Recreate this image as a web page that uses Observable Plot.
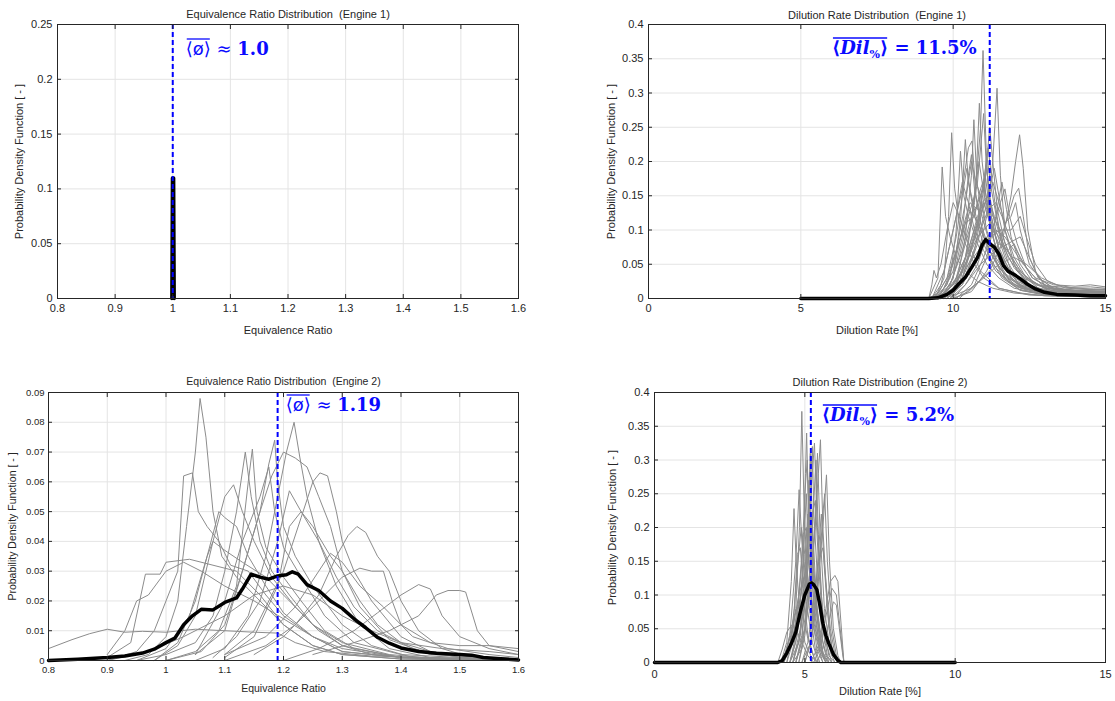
<!DOCTYPE html>
<html><head><meta charset="utf-8">
<script src="https://cdn.jsdelivr.net/npm/d3@7"></script>
<script src="https://cdn.jsdelivr.net/npm/@observablehq/plot@0.6"></script>
<style>
body{margin:0;background:#fff;}
#wrap{position:relative;width:1115px;height:701px;overflow:hidden;background:#fff;}
.panel{position:absolute;}
</style></head><body><div id="wrap"></div>
<script>
// ---------------- DATA ----------------
const titles = ["Equivalence Ratio Distribution\u00a0 (Engine 1)", "Dilution Rate Distribution\u00a0 (Engine 1)",
                "Equivalence Ratio Distribution\u00a0 (Engine 2)", "Dilution Rate Distribution (Engine 2)"];
const yLabelText = "Probability Density Function [ - ]";
const xLabels = ["Equivalence Ratio", "Dilution Rate [%]", "Equivalence Ratio", "Dilution Rate [%]"];

const eqTicksX = [0.8, 0.9, 1.0, 1.1, 1.2, 1.3, 1.4, 1.5, 1.6];
const dilTicksX = [0, 5, 10, 15];
const eq1TicksY = [0, 0.05, 0.1, 0.15, 0.2, 0.25];
const dilTicksY = [0, 0.05, 0.1, 0.15, 0.2, 0.25, 0.3, 0.35, 0.4];
const eq2TicksY = [0, 0.01, 0.02, 0.03, 0.04, 0.05, 0.06, 0.07, 0.08, 0.09];

const meanValues = {eq1: 1.0, dil1: 11.2, eq2: 1.19, dil2: 5.2};
const meanLabels = {eq1: "1.0", dil1: "11.5%", eq2: "1.19", dil2: "5.2%"};

// Engine 1, equivalence ratio: all cycles collapse on 1.0
const eq1Mean = [[0.9985,0],[0.9995,0.11],[1.0015,0.11],[1.0025,0]];
const eq1Curves = [];

// Engine 1, dilution rate
const dil1Mean = [[5,0],[9.2,0],[9.5,0.001],[9.8,0.006],[10.0,0.012],[10.2,0.022],[10.4,0.031],[10.6,0.045],[10.8,0.06],[10.95,0.078],[11.07,0.086],[11.2,0.08],[11.35,0.075],[11.5,0.065],[11.65,0.048],[11.8,0.04],[12.0,0.035],[12.2,0.029],[12.4,0.022],[12.7,0.014],[13.0,0.009],[13.4,0.006],[14.0,0.005],[14.5,0.004],[15,0.004]];
const dil1Curves = [
 [[9.0,0],[9.6,0.005],[10.0,0.02],[10.4,0.06],[10.7,0.14],[10.9,0.25],[10.98,0.362],[11.08,0.22],[11.2,0.12],[11.4,0.07],[11.7,0.03],[12.2,0.012],[13,0.005],[14,0.003],[15,0.002]],
 [[9.2,0],[9.8,0.005],[10.3,0.02],[10.8,0.06],[11.1,0.12],[11.3,0.2],[11.44,0.307],[11.55,0.18],[11.7,0.1],[12.0,0.05],[12.5,0.02],[13.2,0.008],[14,0.005],[15,0.004]],
 [[9.4,0],[10.0,0.004],[10.6,0.015],[11.2,0.04],[11.6,0.08],[11.9,0.15],[12.05,0.2],[12.18,0.239],[12.3,0.19],[12.45,0.1],[12.7,0.04],[13.0,0.02],[13.6,0.01],[14.3,0.008],[15,0.006]],
 [[9.2,0],[9.5,0.03],[9.64,0.192],[9.75,0.12],[9.9,0.09],[10.1,0.06],[10.4,0.04],[10.8,0.025],[11.3,0.015],[12,0.008],[13,0.004],[15,0.002]],
 [[9.4,0],[9.7,0.03],[9.85,0.12],[9.95,0.242],[10.05,0.16],[10.2,0.11],[10.4,0.08],[10.7,0.05],[11.0,0.03],[11.5,0.015],[12.2,0.008],[13,0.004],[15,0.002]],
 [[9.5,0],[9.9,0.03],[10.1,0.1],[10.24,0.215],[10.35,0.15],[10.5,0.12],[10.8,0.08],[11.1,0.05],[11.5,0.03],[12,0.015],[13,0.006],[14,0.004],[15,0.003]],
 [[9.6,0],[10.0,0.03],[10.25,0.12],[10.4,0.232],[10.5,0.17],[10.7,0.12],[11.0,0.08],[11.3,0.05],[11.8,0.025],[12.5,0.01],[13.5,0.005],[15,0.003]],
 [[9.7,0],[10.1,0.02],[10.4,0.09],[10.6,0.18],[10.68,0.261],[10.78,0.17],[10.95,0.12],[11.2,0.08],[11.5,0.045],[12,0.02],[13,0.008],[14,0.006],[15,0.005]],
 [[9.8,0],[10.2,0.02],[10.5,0.08],[10.75,0.17],[10.86,0.285],[10.95,0.2],[11.1,0.14],[11.3,0.09],[11.6,0.05],[12.1,0.02],[13,0.008],[15,0.004]],
 [[9.2,0],[9.3,0.02],[9.37,0.041],[9.45,0.03],[9.6,0.05],[9.8,0.1],[10.0,0.14],[10.2,0.12],[10.5,0.08],[10.9,0.04],[11.5,0.015],[12.5,0.005],[15,0.002]],
 [[10.0,0],[10.6,0.01],[11.1,0.04],[11.5,0.08],[11.8,0.12],[12.0,0.15],[12.15,0.161],[12.3,0.12],[12.5,0.06],[12.8,0.03],[13.3,0.015],[14,0.012],[15,0.01]],
 [[9.4,0],[9.8,0.02],[10.1,0.07],[10.4,0.14],[10.6,0.2],[10.75,0.17],[10.9,0.15],[11.1,0.1],[11.4,0.06],[11.8,0.03],[12.5,0.012],[13.5,0.006],[15,0.004]],
 [[9.6,0],[10.0,0.01],[10.4,0.05],[10.8,0.11],[11.0,0.17],[11.15,0.22],[11.25,0.18],[11.4,0.13],[11.6,0.08],[11.9,0.04],[12.4,0.02],[13.2,0.01],[14,0.008],[15,0.007]],
 [[9.5,0],[10.0,0.015],[10.5,0.06],[10.9,0.12],[11.2,0.16],[11.35,0.19],[11.5,0.15],[11.7,0.1],[12.0,0.06],[12.4,0.03],[13,0.015],[14,0.01],[15,0.008]],
 [[9.3,0],[9.7,0.04],[10.0,0.1],[10.3,0.16],[10.5,0.22],[10.62,0.23],[10.75,0.15],[10.95,0.1],[11.2,0.06],[11.6,0.03],[12.2,0.012],[13,0.006],[15,0.003]],
 [[9.8,0],[10.3,0.02],[10.7,0.07],[11.0,0.14],[11.1,0.2],[11.2,0.25],[11.3,0.2],[11.45,0.13],[11.7,0.08],[12.1,0.04],[12.8,0.015],[13.8,0.008],[15,0.006]],
 [[9.5,0],[10.0,0.02],[10.5,0.05],[11.0,0.08],[11.5,0.1],[11.9,0.1],[12.2,0.12],[12.4,0.09],[12.7,0.05],[13.1,0.025],[13.7,0.015],[14.5,0.013],[15,0.012]],
 [[9.3,0],[9.8,0.01],[10.3,0.04],[10.8,0.09],[11.2,0.11],[11.5,0.09],[11.9,0.06],[12.3,0.035],[12.8,0.02],[13.5,0.012],[14.2,0.01],[15,0.009]],
 [[10.2,0],[10.7,0.02],[11.1,0.06],[11.4,0.12],[11.6,0.17],[11.75,0.13],[11.9,0.09],[12.2,0.05],[12.6,0.025],[13.2,0.012],[14,0.008],[15,0.006]],
 [[9.6,0],[10.0,0.03],[10.3,0.09],[10.5,0.13],[10.7,0.12],[10.9,0.16],[11.05,0.18],[11.2,0.13],[11.5,0.07],[11.9,0.03],[12.5,0.012],[13.5,0.005],[15,0.003]],
 [[9.9,0],[10.4,0.02],[10.9,0.05],[11.4,0.07],[11.8,0.08],[12.2,0.09],[12.5,0.06],[12.8,0.03],[13.2,0.018],[13.8,0.016],[14.5,0.017],[15,0.015]],
 [[9.5,0],[10.0,0.02],[10.4,0.06],[10.7,0.1],[10.95,0.13],[11.15,0.15],[11.35,0.12],[11.6,0.08],[12.0,0.045],[12.5,0.02],[13.2,0.009],[15,0.004]],
 [[9.7,0],[10.3,0.03],[10.8,0.1],[11.0,0.16],[11.1,0.19],[11.2,0.15],[11.4,0.1],[11.7,0.06],[12.1,0.03],[12.8,0.012],[13.8,0.006],[15,0.004]],
 [[10.0,0],[10.5,0.01],[11.0,0.03],[11.5,0.05],[12.0,0.06],[12.4,0.05],[12.9,0.03],[13.4,0.02],[14,0.015],[14.6,0.014],[15,0.013]],
 [[9.4,0],[9.9,0.02],[10.2,0.06],[10.5,0.12],[10.7,0.15],[10.85,0.2],[10.95,0.17],[11.1,0.13],[11.3,0.09],[11.6,0.05],[12.1,0.025],[12.8,0.012],[14,0.009],[15,0.008]],
 [[9.6,0],[10.1,0.03],[10.4,0.08],[10.6,0.11],[10.8,0.14],[11.0,0.16],[11.1,0.21],[11.25,0.16],[11.5,0.1],[11.8,0.06],[12.3,0.03],[13,0.015],[14,0.012],[15,0.011]],
 [[9.3,0],[9.7,0.015],[10.0,0.05],[10.3,0.1],[10.5,0.18],[10.6,0.21],[10.7,0.16],[10.9,0.11],[11.2,0.07],[11.6,0.035],[12.2,0.015],[13.5,0.006],[15,0.004]],
 [[9.9,0],[10.4,0.03],[10.8,0.08],[11.05,0.13],[11.3,0.17],[11.5,0.14],[11.7,0.11],[11.9,0.12],[12.05,0.14],[12.2,0.1],[12.5,0.05],[13,0.02],[14,0.01],[15,0.008]],
 [[9.5,0],[9.9,0.02],[10.3,0.07],[10.6,0.12],[10.8,0.17],[10.92,0.23],[11.0,0.27],[11.08,0.2],[11.25,0.12],[11.5,0.07],[12,0.03],[12.8,0.012],[14,0.007],[15,0.006]],
 [[9.7,0],[10.2,0.02],[10.6,0.06],[10.9,0.1],[11.15,0.13],[11.4,0.14],[11.6,0.12],[11.85,0.09],[12.2,0.06],[12.6,0.03],[13.2,0.015],[14,0.012],[15,0.014]],
 [[9.4,0],[9.8,0.03],[10.1,0.09],[10.3,0.15],[10.45,0.19],[10.55,0.16],[10.75,0.12],[11.0,0.09],[11.3,0.06],[11.7,0.035],[12.3,0.015],[13.5,0.006],[15,0.004]],
 [[10.1,0],[10.6,0.02],[11.0,0.06],[11.3,0.1],[11.55,0.14],[11.7,0.16],[11.85,0.12],[12.1,0.08],[12.4,0.045],[12.9,0.02],[13.6,0.012],[14.4,0.01],[15,0.009]],
 [[9.5,0],[10.0,0.04],[10.3,0.1],[10.55,0.14],[10.8,0.13],[11.0,0.17],[11.2,0.12],[11.45,0.08],[11.8,0.045],[12.3,0.02],[13,0.01],[15,0.005]],
 [[9.8,0],[10.3,0.03],[10.7,0.09],[10.95,0.14],[11.15,0.15],[11.3,0.12],[11.55,0.1],[11.8,0.07],[12.2,0.04],[12.7,0.02],[13.4,0.012],[14.2,0.01],[15,0.01]],
 [[9.3,0],[9.6,0.02],[9.9,0.08],[10.1,0.12],[10.3,0.17],[10.5,0.14],[10.7,0.1],[11.0,0.07],[11.4,0.04],[12,0.018],[13,0.007],[15,0.003]],
 [[9.6,0],[10.1,0.02],[10.5,0.07],[10.8,0.12],[11.0,0.14],[11.2,0.11],[11.5,0.08],[11.8,0.07],[12.0,0.08],[12.2,0.06],[12.6,0.03],[13.2,0.015],[14,0.011],[15,0.01]],
 [[10.0,0],[10.4,0.02],[10.8,0.05],[11.1,0.09],[11.4,0.1],[11.7,0.09],[12.0,0.07],[12.3,0.05],[12.7,0.03],[13.3,0.02],[14,0.018],[14.5,0.02],[15,0.017]],
 [[9.2,0],[9.5,0.008],[9.8,0.03],[10.1,0.07],[10.4,0.11],[10.7,0.12],[10.9,0.1],[11.2,0.07],[11.6,0.04],[12.2,0.02],[13,0.009],[15,0.004]]
];

// Engine 2, equivalence ratio
const eq2Mean = [[0.8,0],[0.85,0.0004],[0.9,0.001],[0.93,0.0015],[0.96,0.0025],[0.98,0.0038],[1.0,0.006],[1.015,0.0075],[1.03,0.012],[1.045,0.015],[1.06,0.0172],[1.08,0.017],[1.1,0.0195],[1.12,0.021],[1.13,0.024],[1.145,0.029],[1.16,0.028],[1.175,0.0273],[1.19,0.0284],[1.205,0.0288],[1.215,0.0298],[1.225,0.029],[1.24,0.0255],[1.26,0.0235],[1.28,0.02],[1.3,0.0175],[1.32,0.014],[1.34,0.011],[1.36,0.0078],[1.38,0.0058],[1.4,0.0042],[1.43,0.003],[1.46,0.0024],[1.5,0.002],[1.52,0.0018],[1.54,0.001],[1.57,0.0006],[1.6,0.0002]];
const eq2Curves = [
 [[0.93,0],[0.97,0.002],[1.0,0.008],[1.02,0.02],[1.035,0.045],[1.05,0.07],[1.058,0.088],[1.068,0.075],[1.08,0.05],[1.095,0.035],[1.12,0.028],[1.15,0.022],[1.2,0.012],[1.25,0.005],[1.3,0.002],[1.4,0.0005],[1.6,0]],
 [[0.9,0],[0.95,0.003],[0.98,0.01],[1.0,0.02],[1.02,0.03],[1.03,0.062],[1.045,0.063],[1.055,0.05],[1.07,0.045],[1.09,0.04],[1.11,0.032],[1.14,0.03],[1.17,0.022],[1.2,0.015],[1.25,0.008],[1.3,0.003],[1.4,0.001],[1.6,0]],
 [[0.8,0.004],[0.84,0.007],[0.87,0.009],[0.9,0.0105],[0.93,0.0095],[0.96,0.0098],[1.0,0.0095],[1.05,0.0105],[1.1,0.01],[1.15,0.0095],[1.19,0.0092],[1.22,0.006],[1.27,0.003],[1.35,0.0015],[1.45,0.001],[1.6,0.0005]],
 [[0.9,0.001],[0.94,0.006],[0.965,0.029],[0.99,0.029],[1.0,0.033],[1.04,0.034],[1.08,0.032],[1.12,0.03],[1.16,0.022],[1.2,0.012],[1.25,0.005],[1.3,0.002],[1.4,0.0005],[1.6,0]],
 [[0.95,0],[1.0,0.002],[1.05,0.006],[1.08,0.015],[1.1,0.03],[1.12,0.05],[1.135,0.07],[1.145,0.055],[1.16,0.04],[1.18,0.03],[1.21,0.022],[1.25,0.012],[1.3,0.005],[1.35,0.002],[1.45,0.0005],[1.6,0]],
 [[1.0,0],[1.05,0.003],[1.09,0.01],[1.12,0.025],[1.14,0.06],[1.147,0.071],[1.155,0.05],[1.17,0.038],[1.2,0.028],[1.23,0.02],[1.27,0.01],[1.32,0.004],[1.4,0.001],[1.6,0]],
 [[1.0,0],[1.06,0.003],[1.1,0.012],[1.13,0.03],[1.16,0.05],[1.175,0.066],[1.185,0.074],[1.19,0.06],[1.2,0.045],[1.22,0.035],[1.25,0.025],[1.3,0.012],[1.35,0.005],[1.42,0.001],[1.6,0]],
 [[1.05,0],[1.1,0.004],[1.14,0.015],[1.17,0.035],[1.19,0.055],[1.205,0.07],[1.218,0.08],[1.228,0.068],[1.24,0.055],[1.26,0.04],[1.29,0.025],[1.33,0.012],[1.38,0.004],[1.45,0.001],[1.6,0]],
 [[1.05,0.002],[1.1,0.01],[1.13,0.03],[1.16,0.05],[1.18,0.062],[1.2,0.07],[1.22,0.068],[1.24,0.065],[1.26,0.055],[1.28,0.045],[1.3,0.03],[1.33,0.018],[1.38,0.007],[1.45,0.002],[1.6,0.0005]],
 [[1.1,0.002],[1.15,0.01],[1.2,0.03],[1.23,0.048],[1.25,0.06],[1.262,0.063],[1.275,0.062],[1.29,0.05],[1.3,0.04],[1.32,0.03],[1.35,0.02],[1.4,0.008],[1.45,0.003],[1.5,0.001],[1.6,0]],
 [[1.1,0],[1.17,0.005],[1.22,0.012],[1.26,0.022],[1.29,0.035],[1.31,0.042],[1.325,0.045],[1.34,0.043],[1.36,0.035],[1.38,0.03],[1.4,0.02],[1.43,0.01],[1.47,0.004],[1.52,0.001],[1.6,0]],
 [[1.2,0],[1.26,0.004],[1.32,0.01],[1.36,0.016],[1.4,0.022],[1.43,0.0255],[1.45,0.024],[1.47,0.015],[1.5,0.008],[1.55,0.004],[1.6,0.002]],
 [[1.25,0.002],[1.32,0.006],[1.38,0.01],[1.43,0.015],[1.46,0.022],[1.48,0.0235],[1.5,0.0235],[1.51,0.023],[1.53,0.01],[1.55,0.005],[1.6,0.004]],
 [[1.15,0.002],[1.2,0.008],[1.25,0.018],[1.3,0.028],[1.33,0.031],[1.35,0.03],[1.37,0.03],[1.385,0.02],[1.4,0.012],[1.45,0.006],[1.5,0.005],[1.55,0.005],[1.6,0.003]],
 [[0.98,0],[1.02,0.005],[1.05,0.015],[1.08,0.04],[1.1,0.055],[1.115,0.059],[1.13,0.05],[1.15,0.04],[1.18,0.028],[1.22,0.018],[1.26,0.01],[1.3,0.005],[1.4,0.001],[1.6,0]],
 [[0.95,0],[1.0,0.004],[1.04,0.015],[1.07,0.035],[1.08,0.04],[1.1,0.037],[1.13,0.033],[1.17,0.028],[1.2,0.022],[1.25,0.012],[1.3,0.006],[1.38,0.002],[1.5,0],[1.6,0]],
 [[0.9,0.002],[0.93,0.01],[0.95,0.02],[0.97,0.022],[1.0,0.03],[1.03,0.033],[1.06,0.03],[1.1,0.025],[1.15,0.02],[1.2,0.014],[1.25,0.008],[1.3,0.004],[1.4,0.001],[1.6,0]],
 [[1.1,0.001],[1.15,0.008],[1.19,0.025],[1.21,0.045],[1.23,0.05],[1.25,0.045],[1.28,0.035],[1.3,0.03],[1.33,0.02],[1.36,0.012],[1.4,0.006],[1.45,0.003],[1.55,0.001],[1.6,0]],
 [[1.1,0.002],[1.17,0.008],[1.22,0.018],[1.26,0.03],[1.28,0.036],[1.3,0.033],[1.33,0.025],[1.37,0.018],[1.42,0.008],[1.48,0.004],[1.55,0.002],[1.6,0.001]],
 [[1.08,0.001],[1.12,0.008],[1.16,0.02],[1.19,0.04],[1.21,0.057],[1.23,0.05],[1.26,0.04],[1.29,0.028],[1.32,0.018],[1.36,0.01],[1.42,0.004],[1.5,0.001],[1.6,0]],
 [[0.9,0],[0.97,0.003],[1.03,0.008],[1.1,0.015],[1.15,0.022],[1.2,0.025],[1.25,0.022],[1.3,0.015],[1.35,0.01],[1.4,0.006],[1.47,0.004],[1.55,0.003],[1.6,0.002]],
 [[0.98,0],[1.02,0.006],[1.05,0.02],[1.07,0.035],[1.09,0.05],[1.1,0.048],[1.12,0.045],[1.14,0.035],[1.17,0.025],[1.2,0.016],[1.25,0.008],[1.3,0.003],[1.4,0.001],[1.6,0]],
 [[1.05,0.002],[1.1,0.02],[1.13,0.04],[1.16,0.055],[1.175,0.065],[1.185,0.05],[1.2,0.038],[1.23,0.028],[1.27,0.015],[1.32,0.006],[1.4,0.002],[1.6,0]]
];

// Engine 2, dilution rate
const dil2Mean = [[0,0],[4.1,0],[4.25,0.003],[4.4,0.014],[4.55,0.028],[4.7,0.045],[4.85,0.075],[5.0,0.1],[5.15,0.116],[5.22,0.118],[5.3,0.115],[5.4,0.108],[5.5,0.085],[5.6,0.058],[5.7,0.04],[5.8,0.028],[5.95,0.012],[6.1,0.003],[6.2,0],[10,0]];
const dil2Curves = [
 [[4.2,0],[4.5,0.02],[4.7,0.08],[4.82,0.2],[4.9,0.372],[4.98,0.22],[5.1,0.12],[5.3,0.05],[5.5,0.015],[5.7,0]],
 [[4.6,0],[4.9,0.02],[5.1,0.08],[5.3,0.18],[5.45,0.28],[5.52,0.33],[5.6,0.2],[5.75,0.08],[5.9,0.02],[6.1,0]],
 [[4.5,0],[4.8,0.03],[5.0,0.1],[5.2,0.25],[5.32,0.325],[5.42,0.2],[5.55,0.1],[5.7,0.03],[5.9,0]],
 [[4.9,0],[5.2,0.03],[5.4,0.1],[5.6,0.2],[5.72,0.278],[5.82,0.15],[5.95,0.05],[6.1,0.01],[6.2,0]],
 [[4.2,0],[4.4,0.03],[4.55,0.12],[4.64,0.228],[4.72,0.14],[4.85,0.07],[5.0,0.03],[5.2,0.01],[5.4,0]],
 [[4.3,0],[4.5,0.04],[4.7,0.15],[4.81,0.256],[4.9,0.18],[5.05,0.09],[5.25,0.03],[5.45,0]],
 [[5.2,0],[5.5,0.03],[5.7,0.08],[5.85,0.12],[6.0,0.129],[6.1,0.12],[6.2,0.06],[6.3,0]],
 [[4.1,0],[4.25,0.02],[4.4,0.045],[4.55,0.055],[4.7,0.05],[4.9,0.03],[5.1,0.01],[5.3,0]],
 [[4.5,0],[4.7,0.04],[4.9,0.15],[5.0,0.25],[5.08,0.3],[5.15,0.2],[5.3,0.09],[5.5,0.02],[5.7,0]],
 [[4.7,0],[4.9,0.03],[5.05,0.12],[5.18,0.26],[5.25,0.32],[5.3,0.22],[5.45,0.1],[5.6,0.03],[5.8,0]],
 [[4.6,0],[4.85,0.05],[5.0,0.15],[5.1,0.22],[5.2,0.18],[5.35,0.09],[5.5,0.03],[5.7,0]],
 [[4.8,0],[5.0,0.04],[5.2,0.12],[5.35,0.2],[5.42,0.31],[5.5,0.2],[5.65,0.08],[5.85,0.015],[6.0,0]],
 [[4.4,0],[4.6,0.05],[4.75,0.14],[4.88,0.2],[5.0,0.16],[5.15,0.08],[5.35,0.02],[5.5,0]],
 [[5.0,0],[5.25,0.04],[5.45,0.12],[5.6,0.22],[5.66,0.25],[5.75,0.15],[5.9,0.05],[6.05,0.01],[6.2,0]],
 [[4.3,0],[4.5,0.02],[4.7,0.06],[4.95,0.12],[5.15,0.16],[5.3,0.12],[5.5,0.05],[5.7,0.01],[5.9,0]],
 [[4.6,0],[4.8,0.03],[5.0,0.09],[5.1,0.18],[5.14,0.27],[5.22,0.18],[5.4,0.07],[5.6,0.015],[5.8,0]],
 [[4.7,0],[5.0,0.05],[5.2,0.15],[5.3,0.24],[5.37,0.3],[5.45,0.19],[5.6,0.06],[5.8,0.01],[6.0,0]],
 [[4.5,0],[4.75,0.04],[4.95,0.14],[5.02,0.28],[5.06,0.34],[5.12,0.22],[5.3,0.08],[5.5,0.02],[5.7,0]],
 [[5.3,0],[5.55,0.03],[5.75,0.08],[5.9,0.11],[6.05,0.1],[6.2,0.04],[6.3,0]],
 [[4.2,0],[4.4,0.02],[4.6,0.05],[4.8,0.1],[5.0,0.13],[5.2,0.1],[5.4,0.04],[5.6,0.01],[5.8,0]],
 [[4.4,0],[4.6,0.03],[4.8,0.1],[4.95,0.19],[5.05,0.2],[5.15,0.14],[5.3,0.06],[5.5,0.015],[5.6,0]],
 [[4.8,0],[5.0,0.05],[5.15,0.13],[5.25,0.22],[5.35,0.24],[5.45,0.15],[5.6,0.05],[5.75,0.01],[5.9,0]],
 [[4.5,0],[4.7,0.03],[4.85,0.09],[4.95,0.16],[5.05,0.25],[5.13,0.15],[5.25,0.07],[5.4,0.02],[5.6,0]],
 [[5.0,0],[5.2,0.03],[5.35,0.1],[5.48,0.18],[5.55,0.22],[5.65,0.14],[5.8,0.05],[5.95,0.01],[6.1,0]],
 [[4.3,0],[4.5,0.025],[4.65,0.08],[4.75,0.16],[4.85,0.17],[4.95,0.11],[5.1,0.04],[5.3,0.008],[5.4,0]],
 [[4.6,0],[4.85,0.04],[5.0,0.12],[5.1,0.2],[5.18,0.31],[5.26,0.2],[5.4,0.08],[5.6,0.015],[5.75,0]],
 [[4.9,0],[5.1,0.03],[5.3,0.09],[5.45,0.15],[5.6,0.17],[5.7,0.12],[5.85,0.05],[6.0,0.012],[6.15,0]],
 [[4.2,0],[4.35,0.015],[4.5,0.04],[4.65,0.07],[4.8,0.085],[4.95,0.07],[5.1,0.035],[5.3,0.008],[5.45,0]],
 [[4.7,0],[4.9,0.04],[5.05,0.11],[5.15,0.17],[5.22,0.22],[5.3,0.14],[5.45,0.05],[5.6,0.01],[5.7,0]],
 [[5.4,0],[5.6,0.02],[5.8,0.06],[5.95,0.09],[6.05,0.085],[6.15,0.05],[6.25,0.015],[6.3,0]]
];

// ---------------- DRAWING ----------------
const fmt = d3.format("~g");
const wrap = document.getElementById("wrap");
const annColor = "#0a0aff";

function panel(cfg) {
  const grayRows = cfg.curves.flatMap((c, i) => c.map(([x, y]) => ({id: i, x, y})));
  const meanRows = cfg.mean.map(([x, y]) => ({x, y}));
  const tf = cfg.tickFont, lf = cfg.labelFont;
  const ink = "#262626";
  const marks = [
    Plot.gridX({ticks: cfg.xGrid, stroke: "#e4e4e4", strokeOpacity: 1}),
    Plot.gridY({ticks: cfg.yTicks, stroke: "#e4e4e4", strokeOpacity: 1}),
    Plot.line(grayRows, {x: "x", y: "y", z: "id", stroke: "#8c8c8c", strokeWidth: 1}),
    Plot.line(meanRows, {x: "x", y: "y", stroke: "#000", strokeWidth: 3.5, strokeLinejoin: "round"}),
    Plot.ruleX([cfg.markValue], {x: d => d, stroke: "#0000ff", strokeWidth: 2, strokeDasharray: "5,3"}),
    Plot.frame({stroke: ink, strokeWidth: 1}),
    Plot.axisX({ticks: cfg.xTicks, anchor: "bottom", tickSize: 0, tickPadding: cfg.xPad, tickFormat: fmt, fontSize: tf, label: null}),
    Plot.axisX({ticks: cfg.xTicks, anchor: "bottom", tickSize: -4, tickFormat: () => "", label: null}),
    Plot.axisX({ticks: cfg.xTicks, anchor: "top", tickSize: -4, tickFormat: () => "", label: null}),
    Plot.axisY({ticks: cfg.yTicks, anchor: "left", tickSize: 0, tickPadding: cfg.yPad, tickFormat: fmt, fontSize: tf, label: null}),
    Plot.axisY({ticks: cfg.yTicks, anchor: "left", tickSize: -4, tickFormat: () => "", label: null}),
    Plot.axisY({ticks: cfg.yTicks, anchor: "right", tickSize: -4, tickFormat: () => "", label: null}),
    Plot.text([cfg.title], {frameAnchor: "top", dy: cfg.titleDy, lineAnchor: "middle", fontSize: lf, fill: ink}),
    Plot.text([cfg.xLabel], {frameAnchor: "bottom", dy: cfg.xLabelDy, lineAnchor: "middle", fontSize: lf, fill: ink}),
    Plot.text([yLabelText], {frameAnchor: "left", rotate: -90, dx: cfg.yLabelDx, textAnchor: "middle", lineAnchor: "middle", fontSize: lf, fill: ink}),
    Plot.text([cfg.markValue], {x: d => d, frameAnchor: "top", text: () => "ANNOT", dx: cfg.annDx, dy: cfg.annDy,
      textAnchor: cfg.annAnchor, lineAnchor: "bottom", fill: annColor, fontSize: 18, fontWeight: "bold",
      fontFamily: "DejaVu Serif, Liberation Serif, serif"})
  ];
  const svg = Plot.plot({
    width: cfg.width, height: cfg.height,
    marginLeft: cfg.mL, marginRight: cfg.mR, marginTop: cfg.mT, marginBottom: cfg.mB,
    x: {domain: cfg.xDomain},
    y: {domain: cfg.yDomain},
    style: {fontFamily: "'Liberation Sans', Arial, sans-serif", color: ink, background: "transparent", overflow: "visible"},
    marks
  });
  const div = document.createElement("div");
  div.className = "panel";
  div.style.left = cfg.left + "px";
  div.style.top = cfg.top + "px";
  div.appendChild(svg);
  wrap.appendChild(div);

  // rich annotation text (built after insertion so glyph extents can be measured)
  svg.querySelectorAll("text").forEach(t => {
    if (t.textContent !== "ANNOT") return;
    const sel = d3.select(t);
    sel.text(null);
    let lastBar;
    if (cfg.kind === "phi") {
      sel.append("tspan").attr("font-weight", "normal").attr("font-family", "DejaVu Sans, sans-serif").text("\u27E8\u00F8\u27E9");
      sel.append("tspan").attr("font-weight", "normal").text(" \u2248 ");
      sel.append("tspan").text(cfg.annText);
      lastBar = 2;
    } else {
      sel.append("tspan").text("\u27E8");
      sel.append("tspan").attr("font-style", "italic").text("Dil");
      sel.append("tspan").attr("font-size", 11).attr("dy", 4).text("%");
      sel.append("tspan").attr("dy", -4).text("\u27E9");
      sel.append("tspan").text(" = " + cfg.annText);
      lastBar = 5;
    }
    const a = t.getExtentOfChar(0), b = t.getExtentOfChar(lastBar);
    const yBar = a.y + 1.5;
    d3.select(t.parentNode).append("line")
      .attr("transform", t.getAttribute("transform"))
      .attr("x1", a.x + 1).attr("x2", b.x + b.width - 1)
      .attr("y1", yBar).attr("y2", yBar)
      .attr("stroke", annColor).attr("stroke-width", 1.3);
  });
}

panel({left: 0, top: 0, width: 557, height: 350, mL: 57, mR: 39, mT: 24, mB: 52,
  xDomain: [0.8, 1.6], yDomain: [0, 0.25], xTicks: eqTicksX, xGrid: eqTicksX, yTicks: eq1TicksY,
  curves: eq1Curves, mean: eq1Mean, markValue: meanValues.eq1, title: titles[0], xLabel: xLabels[0],
  tickFont: 11, labelFont: 11, xPad: 6, yPad: 5, titleDy: -10, xLabelDy: 32, yLabelDx: -38,
  kind: "phi", annText: meanLabels.eq1, annDx: 13, annDy: 30, annAnchor: "start"});

panel({left: 557, top: 0, width: 558, height: 350, mL: 91, mR: 10, mT: 24, mB: 52,
  xDomain: [0, 15], yDomain: [0, 0.4], xTicks: dilTicksX, xGrid: dilTicksX, yTicks: dilTicksY,
  curves: dil1Curves, mean: dil1Mean, markValue: meanValues.dil1, title: titles[1], xLabel: xLabels[1],
  tickFont: 11, labelFont: 11, xPad: 6, yPad: 5, titleDy: -9, xLabelDy: 32, yLabelDx: -37,
  kind: "dil", annText: meanLabels.dil1, annDx: -13, annDy: 29, annAnchor: "end"});

panel({left: 0, top: 350, width: 557, height: 351, mL: 48, mR: 39, mT: 42, mB: 41,
  xDomain: [0.8, 1.6], yDomain: [0, 0.09], xTicks: eqTicksX, xGrid: eqTicksX, yTicks: eq2TicksY,
  curves: eq2Curves, mean: eq2Mean, markValue: meanValues.eq2, title: titles[2], xLabel: xLabels[2],
  tickFont: 9.5, labelFont: 10.5, xPad: 6, yPad: 4, titleDy: -11, xLabelDy: 28, yLabelDx: -36,
  kind: "phi", annText: meanLabels.eq2, annDx: 8, annDy: 18, annAnchor: "start"});

panel({left: 557, top: 350, width: 558, height: 351, mL: 97, mR: 10, mT: 42, mB: 39,
  xDomain: [0, 15], yDomain: [0, 0.4], xTicks: dilTicksX, xGrid: dilTicksX, yTicks: dilTicksY,
  curves: dil2Curves, mean: dil2Mean, markValue: meanValues.dil2, title: titles[3], xLabel: xLabels[3],
  tickFont: 11, labelFont: 11, xPad: 8, yPad: 5, titleDy: -10, xLabelDy: 29, yLabelDx: -42,
  kind: "dil", annText: meanLabels.dil2, annDx: 11, annDy: 28, annAnchor: "start"});
</script></body></html>
